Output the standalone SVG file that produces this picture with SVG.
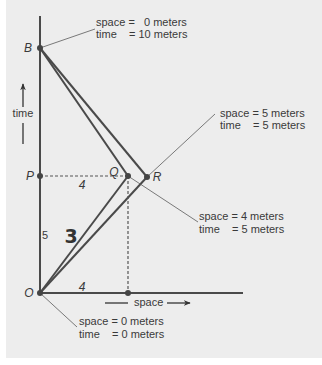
<svg xmlns="http://www.w3.org/2000/svg" width="322" height="365" viewBox="0 0 322 365">
<style>
.t{font-family:"Liberation Sans",Arial,sans-serif;font-size:11px;fill:#3a3a3a;white-space:pre}
.l{font-family:"Liberation Sans",Arial,sans-serif;font-size:12px;font-style:italic;fill:#3a3a3a}
.thick{stroke:#4a4a4a;stroke-width:2;fill:none}
.thin{stroke:#5a5a5a;stroke-width:0.8;fill:none}
.dash{stroke:#555;stroke-width:1.2;stroke-dasharray:3 2;fill:none}
.dot{fill:#444}
</style>
<defs>
<marker id="ah" viewBox="0 0 10 10" refX="9" refY="5" markerWidth="7" markerHeight="7" orient="auto" markerUnits="userSpaceOnUse">
<path d="M0,1 L10,5 L0,9 L3,5 Z" fill="#333"/>
</marker>
</defs>
<rect width="322" height="365" fill="#ffffff"/>
<rect x="6" y="0" width="316" height="358" fill="#ededed"/>
<g id="connectors">
<line class="thick" x1="40" y1="16" x2="40" y2="293"/>
<line class="thick" x1="40" y1="293" x2="243" y2="293"/>
<line class="thick" x1="40" y1="48" x2="128" y2="176"/>
<line class="thick" x1="40" y1="48" x2="147" y2="177"/>
<line class="thick" x1="40" y1="293" x2="128" y2="176"/>
<line class="thick" x1="40" y1="293" x2="147" y2="177"/>
<line class="dash" x1="40" y1="176" x2="128" y2="176"/>
<line class="dash" x1="128" y1="176" x2="128" y2="293"/>
<line class="thin" x1="40" y1="48" x2="95" y2="29"/>
<line class="thin" x1="147" y1="177" x2="215" y2="114"/>
<line class="thin" x1="128" y1="176" x2="198" y2="222"/>
<line class="thin" x1="40" y1="293" x2="77" y2="327"/>
</g>
<g id="time-axis-label">
<line x1="23" y1="107" x2="23" y2="84" stroke="#333" stroke-width="1.3" marker-end="url(#ah)"/>
<text class="t" x="23" y="117" text-anchor="middle">time</text>
<line x1="23" y1="123" x2="23" y2="144" stroke="#333" stroke-width="1.3"/>
</g>
<g id="space-axis-label">
<line x1="105" y1="303" x2="128" y2="303" stroke="#333" stroke-width="1.3"/>
<text class="t" x="134" y="306">space</text>
<line x1="167" y1="303" x2="190" y2="303" stroke="#333" stroke-width="1.3" marker-end="url(#ah)"/>
</g>
<g id="node-B">
<circle class="dot" cx="40" cy="48" r="3"/>
<text class="l" x="28" y="52" text-anchor="middle">B</text>
<text class="t" x="96" y="26" xml:space="preserve">space =   0 meters</text>
<text class="t" x="96" y="38" xml:space="preserve">time    = 10 meters</text>
</g>
<g id="node-P">
<circle class="dot" cx="40" cy="176" r="3"/>
<text class="l" x="30" y="180" text-anchor="middle">P</text>
</g>
<g id="node-Q">
<circle class="dot" cx="128" cy="176" r="3"/>
<text class="l" x="114" y="176" text-anchor="middle">Q</text>
<text class="t" x="199" y="220" xml:space="preserve">space = 4 meters</text>
<text class="t" x="199" y="233" xml:space="preserve">time    = 5 meters</text>
</g>
<g id="node-R">
<circle class="dot" cx="147" cy="177" r="3"/>
<text class="l" x="157" y="181" text-anchor="middle">R</text>
<text class="t" x="220" y="117" xml:space="preserve">space = 5 meters</text>
<text class="t" x="220" y="129" xml:space="preserve">time    = 5 meters</text>
</g>
<g id="node-O">
<circle class="dot" cx="40" cy="293" r="3"/>
<text class="l" x="29" y="297" text-anchor="middle">O</text>
<text class="t" x="79" y="325" xml:space="preserve">space = 0 meters</text>
<text class="t" x="79" y="338" xml:space="preserve">time    = 0 meters</text>
</g>
<g id="node-foot">
<circle class="dot" cx="128" cy="293" r="3"/>
</g>
<g id="measures">
<text class="l" x="82" y="189" text-anchor="middle">4</text>
<text class="l" x="82" y="291" text-anchor="middle">4</text>
<text class="t" x="45" y="239" text-anchor="middle">5</text>
<text x="71" y="243" text-anchor="middle" style="font-family:'DejaVu Sans',sans-serif;font-size:19px;font-weight:900;fill:#333">3</text>
</g>
</svg>
